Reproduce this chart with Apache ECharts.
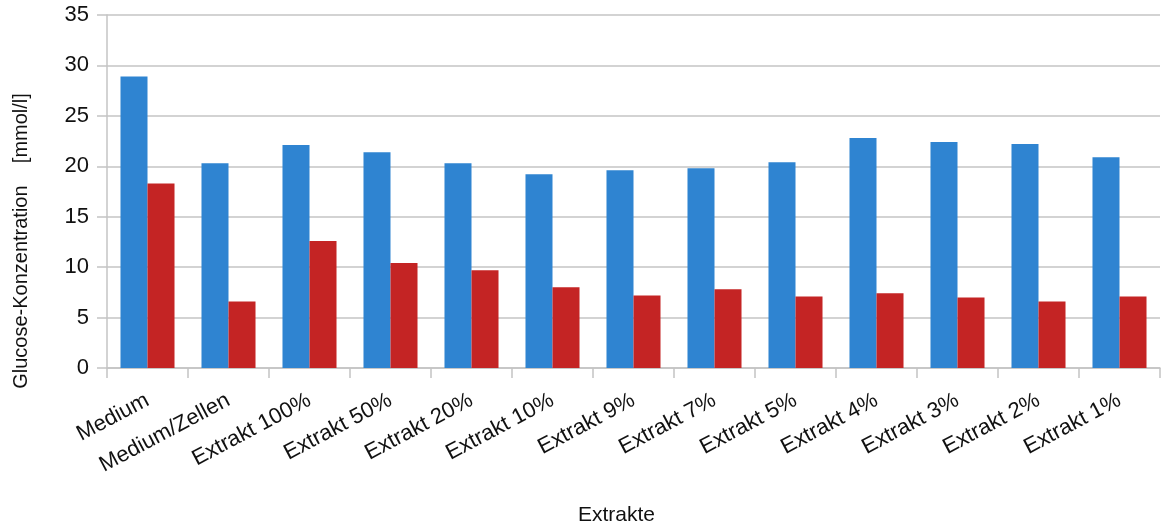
<!DOCTYPE html>
<html>
<head>
<meta charset="utf-8">
<script src="https://cdn.jsdelivr.net/npm/echarts@6/dist/echarts.min.js"></script>
<style>
  html, body { margin: 0; padding: 0; background: #ffffff; }
  #chart { width: 1164px; height: 528px; }
</style>
</head>
<body>
<div id="chart"></div>
<script>
// Glucose concentration per sample (mmol/l)
const categories = ['Medium', 'Medium/Zellen', 'Extrakt 100%', 'Extrakt 50%', 'Extrakt 20%',
  'Extrakt 10%', 'Extrakt 9%', 'Extrakt 7%', 'Extrakt 5%', 'Extrakt 4%', 'Extrakt 3%',
  'Extrakt 2%', 'Extrakt 1%'];
const seriesBlue = [28.9, 20.3, 22.1, 21.4, 20.3, 19.2, 19.6, 19.8, 20.4, 22.8, 22.4, 22.2, 20.9];
const seriesRed = [18.3, 6.6, 12.6, 10.4, 9.7, 8.0, 7.2, 7.8, 7.1, 7.4, 7.0, 6.6, 7.1];
const yTicks = [0, 5, 10, 15, 20, 25, 30, 35];

const fontFamily = '"Liberation Sans", Arial, sans-serif';
const gridColor = '#c4c4c4';

const chart = echarts.init(document.getElementById('chart'), null, { renderer: 'canvas' });
chart.setOption({
  animation: false,
  backgroundColor: '#ffffff',
  grid: { left: 107, right: 4, top: 15, bottom: 160, containLabel: false, outerBoundsMode: 'none' },
  xAxis: {
    type: 'category',
    data: categories,
    name: 'Extrakte',
    nameLocation: 'middle',
    nameGap: 137,
    // end padding nudges the title slightly left of the plot centre
    nameTextStyle: { fontFamily, fontSize: 21, color: '#111', padding: [0, 34, 0, 0] },
    axisLine: { lineStyle: { color: gridColor, width: 1.5 } },
    axisTick: { show: true, length: 10, lineStyle: { color: gridColor, width: 1.5 } },
    axisLabel: { rotate: 28, fontFamily, fontSize: 22, color: '#111', margin: 31, interval: 0 }
  },
  yAxis: {
    type: 'value',
    min: yTicks[0],
    max: yTicks[yTicks.length - 1],
    interval: yTicks[1] - yTicks[0],
    name: 'Glucose-Konzentration    [mmol/l]',
    nameLocation: 'middle',
    nameGap: 76,
    // extra end padding pushes the rotated title a little below the plot centre
    nameTextStyle: { fontFamily, fontSize: 20, color: '#111', padding: [0, 99, 0, 0] },
    axisLine: { show: true, lineStyle: { color: gridColor, width: 1.5 } },
    axisTick: { show: true, length: 10, lineStyle: { color: gridColor, width: 1.5 } },
    axisLabel: { fontFamily, fontSize: 22, color: '#111', margin: 18 },
    splitLine: { lineStyle: { color: gridColor, width: 1.5 } }
  },
  series: [
    {
      type: 'bar',
      data: seriesBlue,
      itemStyle: { color: '#2f84d1' },
      barGap: '0%',
      barCategoryGap: '33.3%'
    },
    {
      type: 'bar',
      data: seriesRed,
      itemStyle: { color: '#c42424' },
      barGap: '0%',
      barCategoryGap: '33.3%'
    }
  ]
});
</script>
</body>
</html>
